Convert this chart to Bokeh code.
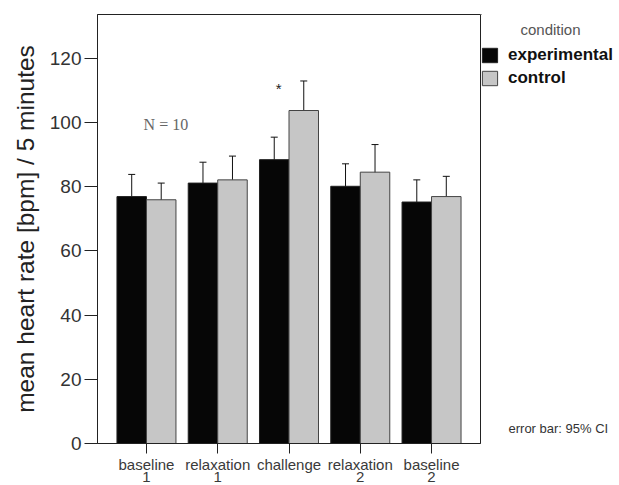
from bokeh.plotting import figure
from bokeh.models import (ColumnDataSource, Whisker, TeeHead, Legend, LegendItem,
                          Label, Range1d, FixedTicker, LinearAxis)
from bokeh.layouts import row
from bokeh.embed import file_html
from bokeh.resources import INLINE

# ---- data ----
categories = ["baseline", "relaxation", "challenge", "relaxation", "baseline"]
category_suffix = ["1", "1", "", "2", "2"]
experimental_mean = [76.9, 81.1, 88.4, 80.1, 75.2]
experimental_upper = [83.8, 87.6, 95.4, 87.1, 82.1]
control_mean = [75.9, 82.1, 103.7, 84.5, 76.9]
control_upper = [81.1, 89.5, 112.9, 93.1, 83.2]
control_lower = [70.5, 74.1, 94.9, 75.7, 71.0]
y_ticks = [0, 20, 40, 60, 80, 100, 120]

idx = list(range(len(categories)))
half = 0.207
exp_x = [i - half for i in idx]
ctl_x = [i + half for i in idx]
experimental_lower = [2 * m - u for m, u in zip(experimental_mean, experimental_upper)]

exp_src = ColumnDataSource(dict(x=exp_x, top=experimental_mean,
                                upper=experimental_upper, lower=experimental_lower))
ctl_src = ColumnDataSource(dict(x=ctl_x, top=control_mean,
                                upper=control_upper, lower=control_lower))

EXP_FILL, EXP_LINE = "#060606", "#222222"
CTL_FILL, CTL_LINE = "#c6c6c6", "#444444"

p = figure(width=481, height=485, output_backend="svg", toolbar_location=None,
           x_range=Range1d(-0.687, 4.687), y_range=Range1d(0, 133.6),
           min_border_left=97, min_border_right=1, min_border_top=14,
           min_border_bottom=42)
p.background_fill_color = "white"
p.border_fill_color = "white"
p.outline_line_color = "#222222"
p.xgrid.visible = False
p.ygrid.visible = False

bw = 0.414
p.vbar(x="x", top="top", width=bw, bottom=0, source=exp_src,
       fill_color=EXP_FILL, line_color=EXP_LINE, line_width=1)
p.vbar(x="x", top="top", width=bw, bottom=0, source=ctl_src,
       fill_color=CTL_FILL, line_color=CTL_LINE, line_width=1)

for src in (exp_src, ctl_src):
    w = Whisker(base="x", upper="upper", lower="lower", source=src,
                line_color="#111111", line_width=1,
                upper_head=TeeHead(size=7, line_color="#111111", line_width=1),
                lower_head=TeeHead(size=7, line_color="#111111", line_width=1))
    p.add_layout(w)

# axes
p.yaxis.ticker = FixedTicker(ticks=y_ticks)
p.yaxis.axis_label = "mean heart rate [bpm] / 5 minutes"
p.yaxis.axis_label_text_font = "Liberation Sans"
p.yaxis.axis_label_text_font_size = "24.5px"
p.yaxis.axis_label_text_font_style = "normal"
p.yaxis.axis_label_text_color = "#222222"
p.yaxis.axis_label_standoff = 8
p.yaxis.major_label_text_font = "Liberation Sans"
p.yaxis.major_label_text_font_size = "19px"
p.yaxis.major_label_text_color = "#333333"
p.yaxis.major_label_standoff = 3
p.yaxis.major_tick_out = 13
p.yaxis.major_tick_in = 0
p.yaxis.minor_tick_line_color = None
p.yaxis.axis_line_color = "#222222"
p.yaxis.major_tick_line_color = "#222222"

p.xaxis.ticker = FixedTicker(ticks=idx)
p.xaxis.major_label_overrides = {i: c for i, c in zip(idx, categories)}
p.xaxis.major_label_text_font = "Liberation Sans"
p.xaxis.major_label_text_font_size = "15px"
p.xaxis.major_label_text_color = "#3a3a3a"
p.xaxis.major_label_standoff = 2
p.xaxis.major_tick_out = 10
p.xaxis.major_tick_in = 0
p.xaxis.minor_tick_line_color = None
p.xaxis.axis_line_color = "#222222"
p.xaxis.major_tick_line_color = "#222222"

# second line of the category labels
suffix_axis = LinearAxis(ticker=FixedTicker(ticks=idx),
                         major_label_overrides={i: s for i, s in zip(idx, category_suffix)},
                         major_label_text_font="Liberation Sans",
                         major_label_text_font_size="15px",
                         major_label_text_color="#3a3a3a",
                         major_label_standoff=-4,
                         major_tick_out=0, major_tick_in=0,
                         major_tick_line_color=None, minor_tick_line_color=None,
                         axis_line_color=None)
p.add_layout(suffix_axis, "below")

p.add_layout(Label(x=-0.04, y=99.4, text="N = 10", text_align="left",
                   text_baseline="middle", text_font="Liberation Serif",
                   text_font_size="16px", text_color="#666666"))
p.add_layout(Label(x=1.855, y=110.5, text="*", text_align="center",
                   text_baseline="middle", text_font="Liberation Sans",
                   text_font_size="15px", text_color="#222222"))

# ---- side panel with legend and notes (its frame is aligned with the main frame;
#      ranges chosen so that data units equal page pixels) ----
s = figure(width=138, height=485, output_backend="svg", toolbar_location=None,
           x_range=Range1d(481, 619), y_range=Range1d(443, 14),
           x_axis_type=None, y_axis_type=None,
           min_border_left=0, min_border_right=0, min_border_top=14,
           min_border_bottom=42)
s.outline_line_color = None
s.background_fill_color = "white"
s.border_fill_color = "white"

# legend proxies (kept outside the visible ranges)
proxy = ColumnDataSource(dict(x=[0], top=[0]))
r_exp = s.vbar(x="x", top="top", width=1, source=proxy,
               fill_color=EXP_FILL, line_color=EXP_LINE, line_width=1)
r_ctl = s.vbar(x="x", top="top", width=1, source=proxy,
               fill_color=CTL_FILL, line_color=CTL_LINE, line_width=1)

legend = Legend(items=[LegendItem(label="experimental", renderers=[r_exp]),
                       LegendItem(label="control", renderers=[r_ctl])],
                location=(-1, 355), margin=0, padding=0, spacing=3,
                glyph_width=19, glyph_height=18, label_height=18,
                label_standoff=9, label_text_font="Liberation Sans",
                label_text_font_size="17px", label_text_font_style="bold",
                label_text_color="#111111", border_line_color=None,
                background_fill_alpha=0)
s.add_layout(legend)

s.add_layout(Label(x=550, y=29, text="condition", text_align="center",
                   text_baseline="middle", text_font="Liberation Sans",
                   text_font_size="15px", text_color="#555555"))
s.add_layout(Label(x=508, y=428, text="error bar: 95% CI", text_align="left",
                   text_baseline="middle", text_font="Liberation Sans",
                   text_font_size="13px", text_color="#333333"))

layout = row(p, s, spacing=0)
open("out.html", "w").write(file_html(layout, INLINE))
